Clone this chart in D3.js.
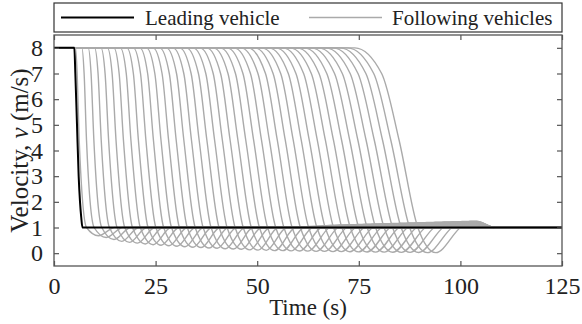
<!DOCTYPE html>
<html>
<head>
<meta charset="utf-8">
<script src="https://cdn.jsdelivr.net/npm/d3@7/dist/d3.min.js"></script>
</head>
<body style="margin:0">
<svg id="fig" width="582" height="324"></svg>
<script>
// Leading vehicle speed profile (time s, speed m/s)
const leaderTime  = [0, 5, 5.25, 5.66, 6.07, 6.4, 6.7, 7, 125];
const leaderSpeed = [8, 8, 7, 5, 3, 2, 1.4, 1, 1];

// Following vehicles: per-vehicle key instants of the braking wave
const brakeOnset  = [5.30, 6.86, 8.42, 9.99, 11.56, 13.14, 14.73, 16.32, 17.92, 19.53, 21.13, 22.75, 24.37, 26.00, 27.64, 29.27, 30.92, 32.57, 34.23, 35.90, 37.56, 39.24, 40.92, 42.61, 44.31, 46.00, 47.71, 49.43, 51.14, 52.87, 54.59, 56.33, 58.08, 59.82, 61.58, 63.33, 65.10, 66.88, 68.65, 70.44, 72.22, 74.02];
const passSeven   = [5.70, 7.41, 9.12, 10.84, 12.57, 14.30, 16.03, 17.78, 19.53, 21.29, 23.04, 24.81, 26.59, 28.37, 30.15, 31.94, 33.74, 35.54, 37.35, 39.17, 40.99, 42.81, 44.65, 46.49, 48.34, 50.18, 52.04, 53.91, 55.78, 57.65, 59.53, 61.42, 63.31, 65.21, 67.12, 69.03, 70.94, 72.87, 74.80, 76.74, 78.67, 80.62];
const passMid     = [6.20, 8.00, 9.81, 11.62, 13.44, 15.26, 17.09, 18.93, 20.77, 22.62, 24.47, 26.33, 28.20, 30.07, 31.95, 33.83, 35.72, 37.62, 39.52, 41.43, 43.34, 45.26, 47.19, 49.12, 51.06, 53.00, 54.95, 56.91, 58.87, 60.84, 62.81, 64.79, 66.78, 68.77, 70.77, 72.77, 74.78, 76.80, 78.82, 80.85, 82.88, 84.92];
const reachOne    = [8.00, 9.87, 11.75, 13.63, 15.52, 17.41, 19.31, 21.23, 23.14, 25.06, 26.98, 28.91, 30.85, 32.79, 34.74, 36.69, 38.65, 40.62, 42.59, 44.57, 46.56, 48.55, 50.55, 52.55, 54.56, 56.57, 58.59, 60.62, 62.65, 64.69, 66.73, 68.78, 70.84, 72.90, 74.98, 77.05, 79.13, 81.22, 83.31, 85.41, 87.51, 89.52];
const dipTime     = [10.94, 12.85, 14.76, 16.68, 18.60, 20.53, 22.47, 24.42, 26.37, 28.32, 30.28, 32.24, 34.22, 36.20, 38.18, 40.17, 42.16, 44.17, 46.18, 48.19, 50.22, 52.24, 54.28, 56.32, 58.36, 60.41, 62.46, 64.53, 66.59, 68.67, 70.75, 72.83, 74.93, 77.02, 79.14, 81.25, 83.36, 85.49, 87.61, 89.75, 91.88, 93.93];
const dipSpeed    = [0.68, 0.61, 0.53, 0.46, 0.42, 0.39, 0.36, 0.33, 0.31, 0.29, 0.27, 0.25, 0.23, 0.22, 0.20, 0.19, 0.17, 0.16, 0.15, 0.13, 0.12, 0.11, 0.10, 0.10, 0.09, 0.085, 0.08, 0.07, 0.07, 0.06, 0.06, 0.055, 0.05, 0.045, 0.04, 0.04, 0.035, 0.03, 0.03, 0.025, 0.02, 0.02];
const recoverTime = [15.00, 16.96, 18.92, 20.89, 22.86, 24.84, 26.82, 28.83, 30.82, 32.83, 34.83, 36.85, 38.87, 40.90, 42.94, 44.97, 47.02, 49.07, 51.13, 53.19, 55.27, 57.34, 59.43, 61.51, 63.61, 65.70, 67.81, 69.93, 72.04, 74.17, 76.29, 78.43, 80.57, 82.72, 84.88, 87.04, 89.20, 91.38, 93.55, 95.74, 97.93, 100.02];
const cruiseSpeed = [1, 1, 1, 1, 1, 1, 1, 1, 1, 1, 1, 1, 1, 1, 1, 1, 1, 1, 1, 1, 1, 1, 1.03, 1.05, 1.07, 1.09, 1.10, 1.11, 1.12, 1.13, 1.14, 1.15, 1.16, 1.17, 1.18, 1.19, 1.20, 1.21, 1.22, 1.23, 1.24, 1.25];
const settleStart = 104;   // followers hold cruise speed until here
const settleEnd   = 108.5; // and are back at 1 m/s here

const xTicks = [0, 25, 50, 75, 100, 125];
const yTicks = [0, 1, 2, 3, 4, 5, 6, 7, 8];
const legendLabels = ["Leading vehicle", "Following vehicles"];

const FONT = "Times New Roman";
const textColor = "#222";

const svg = d3.select("#fig");
const plot = { left: 54, right: 562, top: 35, bottom: 266 };

const x = d3.scaleLinear().domain([0, 125]).range([plot.left, plot.right]);
const y = d3.scaleLinear().domain([-0.5, 8.5]).range([plot.bottom, plot.top]);

svg.append("defs").append("clipPath").attr("id", "plotClip")
  .append("rect")
  .attr("x", plot.left).attr("y", plot.top)
  .attr("width", plot.right - plot.left).attr("height", plot.bottom - plot.top);

const line = d3.line()
  .x(d => x(d[0]))
  .y(d => y(d[1]))
  .curve(d3.curveMonotoneX);

// Follower trajectories
const followers = d3.range(brakeOnset.length).map(i => [
  [0, 8],
  [brakeOnset[i], 8],
  [passSeven[i], 7],
  [passMid[i], 4.4],
  [reachOne[i], 1],
  [dipTime[i], dipSpeed[i]],
  [recoverTime[i], 1],
  [recoverTime[i] + 2.5, cruiseSpeed[i]],
  [settleStart, cruiseSpeed[i]],
  [settleEnd, 1],
  [125, 1]
]);

const gLines = svg.append("g").attr("clip-path", "url(#plotClip)");
gLines.selectAll("path.follower")
  .data(followers)
  .join("path")
  .attr("class", "follower")
  .attr("d", line)
  .attr("fill", "none")
  .attr("stroke", "#aaaaaa")
  .attr("stroke-width", 1.4);

// Leader trajectory
gLines.append("path")
  .datum(leaderTime.map((t, i) => [t, leaderSpeed[i]]))
  .attr("d", line)
  .attr("fill", "none")
  .attr("stroke", "#000")
  .attr("stroke-width", 2);

// Frame
const frameColor = "#555";
svg.append("rect")
  .attr("x", plot.left).attr("y", plot.top)
  .attr("width", plot.right - plot.left).attr("height", plot.bottom - plot.top)
  .attr("fill", "none").attr("stroke", frameColor).attr("stroke-width", 1.3);

// Axes with inward ticks
const tickLen = 5;
const axisBottom = d3.axisBottom(x).tickValues(xTicks).tickSizeInner(-tickLen).tickSizeOuter(0).tickPadding(tickLen + 6);
const axisTop = d3.axisTop(x).tickValues(xTicks).tickSizeInner(-tickLen).tickSizeOuter(0).tickFormat("");
const axisLeft = d3.axisLeft(y).tickValues(yTicks).tickSizeInner(-tickLen).tickSizeOuter(0).tickPadding(tickLen + 6);
const axisRight = d3.axisRight(y).tickValues(yTicks).tickSizeInner(-tickLen).tickSizeOuter(0).tickFormat("");

function styleAxis(g) {
  g.attr("font-family", FONT).attr("font-size", 24);
  g.select(".domain").remove();
  g.selectAll(".tick line").attr("stroke", frameColor).attr("stroke-width", 1.2);
  g.selectAll(".tick text").attr("fill", textColor);
}

svg.append("g").attr("transform", `translate(0,${plot.bottom})`).call(axisBottom).call(styleAxis);
svg.append("g").attr("transform", `translate(0,${plot.top})`).call(axisTop).call(styleAxis);
svg.append("g").attr("transform", `translate(${plot.left},0)`).call(axisLeft).call(styleAxis);
svg.append("g").attr("transform", `translate(${plot.right},0)`).call(axisRight).call(styleAxis);

// Axis titles
svg.append("text")
  .attr("x", (plot.left + plot.right) / 2)
  .attr("y", 315)
  .attr("text-anchor", "middle")
  .attr("fill", textColor)
  .attr("font-family", FONT)
  .attr("font-size", 23)
  .text("Time (s)");

const yTitle = svg.append("text")
  .attr("transform", `translate(28,${(plot.top + plot.bottom) / 2}) rotate(-90)`)
  .attr("text-anchor", "middle")
  .attr("fill", textColor)
  .attr("font-family", FONT)
  .attr("font-size", 25);
yTitle.append("tspan").text("Velocity, ");
yTitle.append("tspan").attr("font-style", "italic").text("v");
yTitle.append("tspan").text(" (m/s)");

// Legend
const legend = svg.append("g");
legend.append("rect")
  .attr("x", plot.left).attr("y", 3)
  .attr("width", plot.right - plot.left).attr("height", 29)
  .attr("fill", "#fff").attr("stroke", "#333").attr("stroke-width", 1.2);

const legendItems = [
  { label: legendLabels[0], color: "#000", width: 2, x0: 61, x1: 134, tx: 145 },
  { label: legendLabels[1], color: "#aaaaaa", width: 1.5, x0: 309, x1: 382, tx: 392 }
];
legendItems.forEach(it => {
  legend.append("line")
    .attr("x1", it.x0).attr("x2", it.x1).attr("y1", 17.5).attr("y2", 17.5)
    .attr("stroke", it.color).attr("stroke-width", it.width);
  legend.append("text")
    .attr("x", it.tx).attr("y", 25)
    .attr("fill", textColor)
    .attr("font-family", FONT)
    .attr("font-size", 21)
    .text(it.label);
});
</script>
</body>
</html>
